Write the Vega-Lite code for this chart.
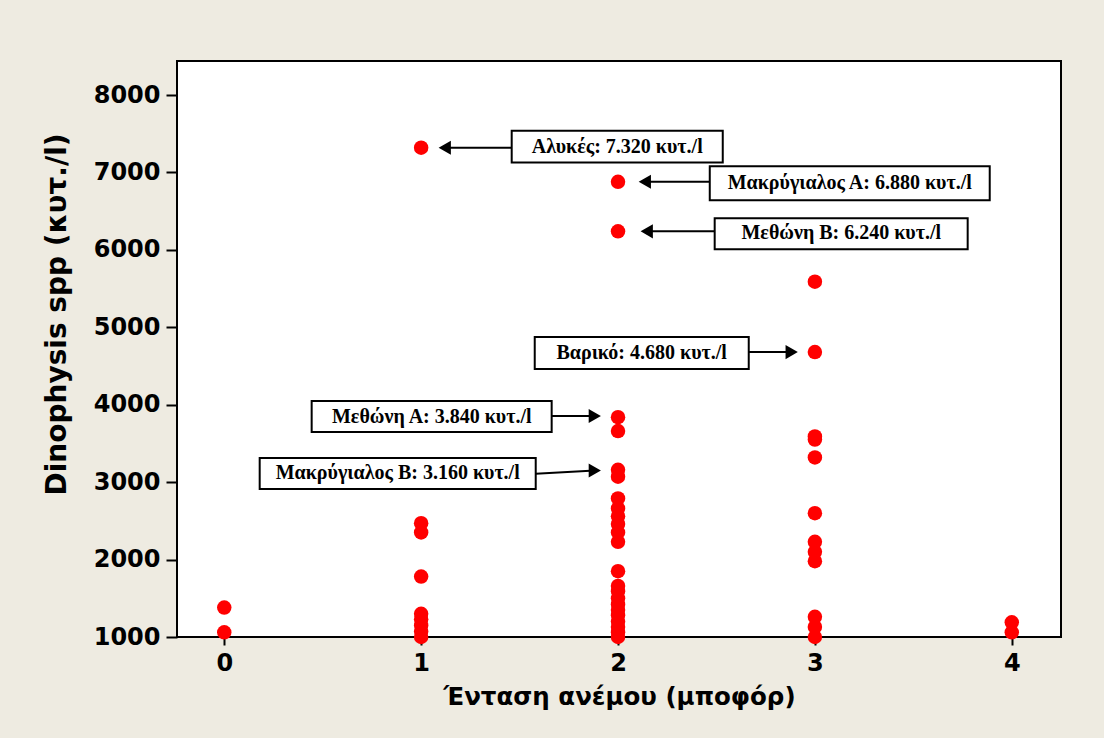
{
  "$schema": "https://vega.github.io/schema/vega-lite/v6.json",
  "width": 884,
  "height": 576,
  "autosize": {"type": "none"},
  "padding": {"left": 177, "top": 61, "right": 43, "bottom": 101},
  "background": "#EEEBE1",
  "config": {
    "view": {"fill": "white", "stroke": "black", "strokeWidth": 2},
    "axis": {
      "grid": false,
      "domain": false,
      "tickColor": "black",
      "tickWidth": 2,
      "labelColor": "black",
      "labelFont": "DejaVu Sans",
      "labelFontWeight": "bold",
      "labelFontSize": 24,
      "titleColor": "black",
      "titleFont": "DejaVu Sans",
      "titleFontWeight": "bold",
      "titleFontSize": 24.5
    }
  },
  "datasets": {
    "pts": [
      {"wind": 0, "cells": 1380}, {"wind": 0, "cells": 1060},
      {"wind": 1, "cells": 7320}, {"wind": 1, "cells": 2470}, {"wind": 1, "cells": 2350}, {"wind": 1, "cells": 1780},
      {"wind": 1, "cells": 1300}, {"wind": 1, "cells": 1230}, {"wind": 1, "cells": 1150}, {"wind": 1, "cells": 1070}, {"wind": 1, "cells": 1000},
      {"wind": 2, "cells": 6880}, {"wind": 2, "cells": 6240}, {"wind": 2, "cells": 3840}, {"wind": 2, "cells": 3660},
      {"wind": 2, "cells": 3160}, {"wind": 2, "cells": 3070}, {"wind": 2, "cells": 2790}, {"wind": 2, "cells": 2660},
      {"wind": 2, "cells": 2560}, {"wind": 2, "cells": 2460}, {"wind": 2, "cells": 2350}, {"wind": 2, "cells": 2230},
      {"wind": 2, "cells": 1850}, {"wind": 2, "cells": 1660}, {"wind": 2, "cells": 1590}, {"wind": 2, "cells": 1500},
      {"wind": 2, "cells": 1420}, {"wind": 2, "cells": 1350}, {"wind": 2, "cells": 1280}, {"wind": 2, "cells": 1200},
      {"wind": 2, "cells": 1130}, {"wind": 2, "cells": 1060}, {"wind": 2, "cells": 1000},
      {"wind": 3, "cells": 5590}, {"wind": 3, "cells": 4680}, {"wind": 3, "cells": 3590}, {"wind": 3, "cells": 3550},
      {"wind": 3, "cells": 3320}, {"wind": 3, "cells": 2600}, {"wind": 3, "cells": 2230}, {"wind": 3, "cells": 2100},
      {"wind": 3, "cells": 1980}, {"wind": 3, "cells": 1260}, {"wind": 3, "cells": 1130}, {"wind": 3, "cells": 1000},
      {"wind": 4, "cells": 1190}, {"wind": 4, "cells": 1060}
    ],
    "notes": [
      {"label": "Αλυκές: 7.320 κυτ./l", "tx": 1.996, "ty": 7330, "bx1": 1.460, "bx2": 2.532, "by1": 7130, "by2": 7540, "ax1": 1.460, "ay1": 7320, "ax2": 1.120, "ay2": 7320, "head": "triangle-left"},
      {"label": "Μακρύγιαλος Α: 6.880 κυτ./l", "tx": 3.177, "ty": 6860, "bx1": 2.466, "bx2": 3.888, "by1": 6640, "by2": 7080, "ax1": 2.466, "ay1": 6880, "ax2": 2.136, "ay2": 6880, "head": "triangle-left"},
      {"label": "Μεθώνη Β:  6.240 κυτ./l", "tx": 3.134, "ty": 6215, "bx1": 2.491, "bx2": 3.776, "by1": 6010, "by2": 6410, "ax1": 2.491, "ay1": 6240, "ax2": 2.146, "ay2": 6240, "head": "triangle-left"},
      {"label": "Βαρικό:  4.680 κυτ./l", "tx": 2.120, "ty": 4668, "bx1": 1.577, "bx2": 2.664, "by1": 4461, "by2": 4875, "ax1": 2.664, "ay1": 4680, "ax2": 2.882, "ay2": 4680, "head": "triangle-right"},
      {"label": "Μεθώνη Α:  3.840 κυτ./l", "tx": 1.054, "ty": 3848, "bx1": 0.444, "bx2": 1.663, "by1": 3648, "by2": 4048, "ax1": 1.663, "ay1": 3854, "ax2": 1.882, "ay2": 3854, "head": "triangle-right"},
      {"label": "Μακρύγιαλος Β:  3.160 κυτ./l", "tx": 0.881, "ty": 3112, "bx1": 0.180, "bx2": 1.582, "by1": 2911, "by2": 3312, "ax1": 1.582, "ay1": 3110, "ax2": 1.882, "ay2": 3150, "head": "triangle-right"}
    ]
  },
  "layer": [
    {
      "data": {"name": "pts"},
      "mark": {"type": "circle", "color": "#FF0000", "opacity": 1, "size": 210},
      "encoding": {
        "x": {
          "field": "wind", "type": "quantitative",
          "scale": {"domain": [-0.24, 4.25], "nice": false, "zero": false},
          "axis": {"values": [0, 1, 2, 3, 4], "format": "d", "tickSize": 8, "labelPadding": 6, "title": "Ένταση ανέμου (μποφόρ)", "titlePadding": 10}
        },
        "y": {
          "field": "cells", "type": "quantitative",
          "scale": {"domain": [1000, 8440], "nice": false, "zero": false},
          "axis": {"values": [1000, 2000, 3000, 4000, 5000, 6000, 7000, 8000], "format": "d", "tickSize": 11, "labelPadding": 6, "title": "Dinophysis spp (κυτ./l)", "titleFontSize": 28, "titleAngle": -90, "titleX": -120, "titleY": 253, "titleAlign": "center", "titleBaseline": "middle"}
        }
      }
    },
    {
      "data": {"name": "notes"},
      "mark": {"type": "rule", "color": "black", "strokeWidth": 2},
      "encoding": {
        "x": {"field": "ax1", "type": "quantitative"},
        "x2": {"field": "ax2"},
        "y": {"field": "ay1", "type": "quantitative"},
        "y2": {"field": "ay2"}
      }
    },
    {
      "data": {"name": "notes"},
      "mark": {"type": "point", "filled": true, "color": "black", "opacity": 1, "size": 200},
      "encoding": {
        "x": {"field": "ax2", "type": "quantitative"},
        "y": {"field": "ay2", "type": "quantitative"},
        "shape": {"field": "head", "type": "nominal", "scale": {"domain": ["triangle-left", "triangle-right"], "range": ["triangle-left", "triangle-right"]}, "legend": null}
      }
    },
    {
      "data": {"name": "notes"},
      "mark": {"type": "rect", "fill": "white", "stroke": "black", "strokeWidth": 2},
      "encoding": {
        "x": {"field": "bx1", "type": "quantitative"},
        "x2": {"field": "bx2"},
        "y": {"field": "by1", "type": "quantitative"},
        "y2": {"field": "by2"}
      }
    },
    {
      "data": {"name": "notes"},
      "mark": {"type": "text", "font": "Liberation Serif", "fontWeight": "bold", "fontSize": 20, "color": "black", "align": "center", "baseline": "middle"},
      "encoding": {
        "x": {"field": "tx", "type": "quantitative"},
        "y": {"field": "ty", "type": "quantitative"},
        "text": {"field": "label"}
      }
    }
  ]
}
